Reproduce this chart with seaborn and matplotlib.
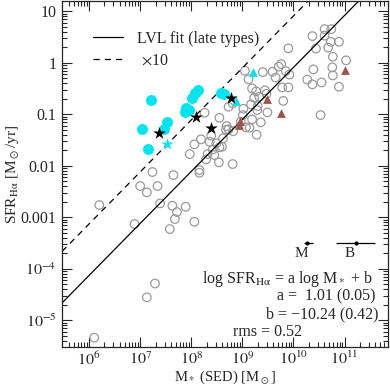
import numpy as np
import matplotlib
matplotlib.use("Agg")
import matplotlib.pyplot as plt
import seaborn as sns
from matplotlib.ticker import FixedLocator, FuncFormatter, LogLocator, NullFormatter

# ---- data (log10 stellar mass, log10 SFR) ----
gray_logm = [10.61, 10.74, 10.37, 10.61, 10.73, 10.89, 9.90, 10.44, 10.68, 10.77,
             11.03, 10.39, 10.76, 10.77, 10.89, 10.55, 10.37, 10.27, 9.76, 9.71,
             9.59, 9.65, 9.85, 9.92, 9.40, 9.05, 9.12, 9.19, 9.27, 9.44,
             9.47, 9.78, 9.90, 9.80, 9.33, 9.23, 9.17, 9.30, 9.02, 8.73,
             8.81, 8.26, 8.55, 9.01, 9.29, 9.49, 9.19, 9.36, 8.97, 8.69,
             9.07, 9.14, 8.73, 9.28, 8.39, 8.19, 8.06, 8.36, 8.49, 8.62,
             8.42, 8.60, 7.97, 8.32, 8.45, 8.29, 8.54, 8.81, 8.16, 8.16,
             10.53, 7.65, 7.24, 7.00, 7.13, 7.34, 6.20, 7.39, 7.63, 7.72,
             7.89, 7.68, 6.89, 7.58, 8.06, 7.29, 7.13, 6.10, 8.55, 8.82,
             8.68]
gray_logsfr = [0.654, 0.654, 0.518, 0.528, 0.408, 0.408, 0.280, 0.276, 0.295, 0.117,
               0.047, -0.128, -0.089, -0.245, -0.466, -0.381, -0.419, -0.326, -0.025, -0.074,
               -0.175, -0.287, -0.161, -0.229, -0.181, -0.155, -0.320, -0.497, -0.555, -0.534,
               -0.602, -0.478, -0.478, -0.740, -0.660, -0.680, -0.808, -0.841, -0.893, -0.854,
               -0.788, -0.971, -1.068, -1.016, -0.918, -0.963, -1.099, -1.157, -1.146, -1.229,
               -1.254, -1.262, -1.293, -1.398, -1.414, -1.487, -1.584, -1.534, -1.565, -1.468,
               -1.682, -1.631, -1.773, -1.773, -1.792, -1.876, -1.934, -1.967, -2.083, -2.136,
               -1.016, -2.181, -2.122, -2.394, -2.517, -2.394, -2.763, -2.730, -2.777, -2.899,
               -2.796, -3.035, -3.132, -3.229, -3.087, -4.287, -4.555, -5.340, -1.640, -1.330,
               -1.300]

cyan_logm = [7.22, 7.03, 7.47, 7.52, 7.15, 8.02, 8.07, 8.14, 7.87, 7.90, 7.96, 8.585, 8.65]
cyan_logsfr = [-0.724, -1.278, -1.278, -1.157, -1.672, -0.676, -0.588, -0.520,
               -0.951, -0.870, -0.918, -0.583, -0.614]

cyan_tri_logm = [9.21, 8.88]
cyan_tri_logsfr = [-0.184, -0.734]

cyan_star_logm = [7.53]
cyan_star_logsfr = [-1.579]

star_logm = [7.37, 8.10, 8.39, 8.78]
star_logsfr = [-1.371, -1.060, -1.274, -0.680]

brown_logm = [11.00, 9.49, 9.75, 8.95, 8.93]
brown_logsfr = [-0.142, -0.711, -0.983, -1.132, -1.210]

# LVL fit for late types, and the same x10
fit_a = 1.01
fit_b = -10.19

# typical mass error bars (log M)
err_labels = ["M", "B"]
err_logm = [10.27, 11.22]
err_lo = [0.06, 0.39]
err_hi = [0.11, 0.37]
err_logsfr = -3.50

xlim = (10**5.47, 10**11.85)
ylim = (10**-5.52, 10**1.2)

sns.set_style("ticks")
plt.rcParams["font.family"] = ["Liberation Serif", "DejaVu Serif"]
plt.rcParams["mathtext.fontset"] = "stix"

fig = plt.figure(figsize=(3.90, 3.87), dpi=100)
ax = fig.add_axes([62 / 390, 40 / 387, 326 / 390, 346 / 387])

sns.scatterplot(x=10 ** np.array(gray_logm), y=10 ** np.array(gray_logsfr), ax=ax,
                marker="o", s=38, facecolor="none", edgecolor="#9a9a9a", linewidth=0.9,
                zorder=2)
sns.scatterplot(x=10 ** np.array(cyan_logm), y=10 ** np.array(cyan_logsfr), ax=ax,
                marker="o", s=62, color="#00e5f0", linewidth=0, zorder=3)
sns.scatterplot(x=10 ** np.array(cyan_tri_logm), y=10 ** np.array(cyan_tri_logsfr), ax=ax,
                marker="^", s=40, color="#00e5f0", linewidth=0, zorder=3)
sns.scatterplot(x=10 ** np.array(cyan_star_logm), y=10 ** np.array(cyan_star_logsfr), ax=ax,
                marker="*", s=80, color="#00e5f0", linewidth=0, zorder=3)
sns.scatterplot(x=10 ** np.array(star_logm), y=10 ** np.array(star_logsfr), ax=ax,
                marker="*", s=90, color="black", linewidth=0, zorder=4)
sns.scatterplot(x=10 ** np.array(brown_logm), y=10 ** np.array(brown_logsfr), ax=ax,
                marker="^", s=40, color="#a0524d", linewidth=0, zorder=3)

lx = np.linspace(np.log10(xlim[0]), np.log10(xlim[1]), 50)
ax.plot(10 ** lx, 10 ** (fit_a * lx + fit_b), color="black", lw=0.9,
        label="LVL fit (late types)")
ax.plot(10 ** lx, 10 ** (fit_a * lx + fit_b + 1), color="black", lw=0.9,
        ls=(0, (5, 4)), label=r" $\times$10")

# error bar indicators
for lab, m, lo, hi in zip(err_labels, err_logm, err_lo, err_hi):
    xc = 10 ** m
    ax.errorbar([xc], [10 ** err_logsfr],
                xerr=[[xc - 10 ** (m - lo)], [10 ** (m + hi) - xc]],
                fmt="o", ms=2, color="black", elinewidth=0.9, capsize=0)
    ax.text(10 ** (m - 0.12), 10 ** (err_logsfr - 0.08), lab, ha="center", va="top",
            fontsize=11)

ax.set_xscale("log")
ax.set_yscale("log")
ax.set_xlim(*xlim)
ax.set_ylim(*ylim)

ax.xaxis.set_major_locator(FixedLocator([1e6, 1e7, 1e8, 1e9, 1e10, 1e11]))
ax.yaxis.set_major_locator(FixedLocator([1e-5, 1e-4, 1e-3, 1e-2, 1e-1, 1, 10]))
ax.xaxis.set_minor_locator(LogLocator(base=10, subs=np.arange(2, 10), numticks=20))
ax.yaxis.set_minor_locator(LogLocator(base=10, subs=np.arange(2, 10), numticks=20))
ax.xaxis.set_minor_formatter(NullFormatter())
ax.yaxis.set_minor_formatter(NullFormatter())


def xfmt(v, pos):
    return r"$10^{%d}$" % round(np.log10(v))


def yfmt(v, pos):
    e = round(np.log10(v))
    if e >= -3:
        return {1: "10", 0: "1", -1: "0.1", -2: "0.01", -3: "0.001"}[e]
    return r"$10^{%d}$" % e


ax.xaxis.set_major_formatter(FuncFormatter(xfmt))
ax.yaxis.set_major_formatter(FuncFormatter(yfmt))
ax.tick_params(which="both", direction="in", top=True, right=True, labelsize=11.5,
               width=0.8)
ax.tick_params(which="major", length=7, pad=4)
ax.tick_params(axis="x", which="major", pad=3)
ax.tick_params(which="minor", length=3.5)
for sp in ax.spines.values():
    sp.set_linewidth(0.9)

ax.set_xlabel(r"M$_*$ (SED) [M$_\odot$]", fontsize=10.5, labelpad=0)
ax.set_ylabel(r"SFR$_{\rm H\alpha}$ [M$_\odot$/yr]", fontsize=11, labelpad=0)

ax.legend(loc="upper left", bbox_to_anchor=(0.05, 0.955), frameon=False, fontsize=11.5,
          handlelength=1.9, handletextpad=0.9, labelspacing=0.35)

ax.text(0.955, 0.197, r"log SFR$_{\rm H\alpha}$ = a log M$_*$ + b", transform=ax.transAxes,
        ha="right", va="center", fontsize=11.5)
ax.text(0.962, 0.147, "a =  1.01 (0.05)", transform=ax.transAxes,
        ha="right", va="center", fontsize=11.5)
ax.text(0.970, 0.095, "b = \u221210.24 (0.42)", transform=ax.transAxes,
        ha="right", va="center", fontsize=11.5)
ax.text(0.525, 0.042, "rms = 0.52", transform=ax.transAxes,
        ha="left", va="center", fontsize=11.5)

fig.savefig("out.png", dpi=100)
